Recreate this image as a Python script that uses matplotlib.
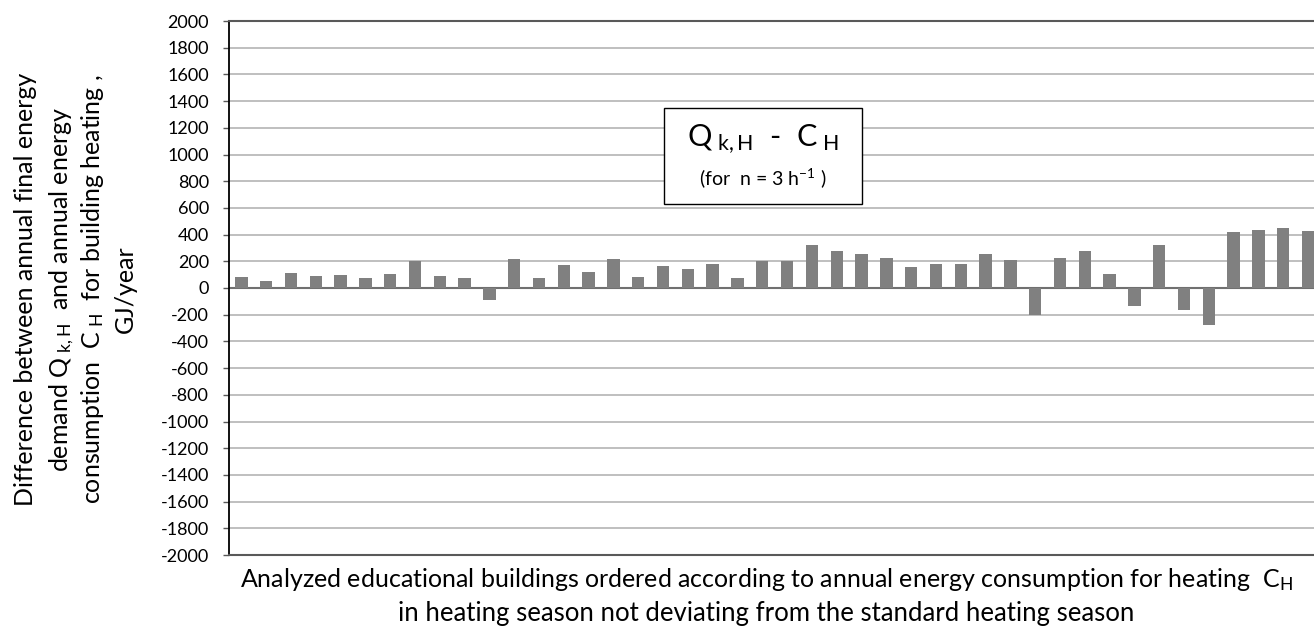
import matplotlib
matplotlib.use("Agg")
import matplotlib.pyplot as plt
from matplotlib.patches import Rectangle
import numpy as np

plt.rcParams["font.family"] = ["Lato", "DejaVu Sans"]
plt.rcParams["mathtext.fontset"] = "custom"
plt.rcParams["mathtext.rm"] = "Lato"
plt.rcParams["mathtext.it"] = "Lato"
plt.rcParams["axes.unicode_minus"] = False

# Q_k,H - C_H for each building, GJ/year
diff = [80, 55, 115, 90, 98, 73, 108, 200, 90, 73, -88, 218, 73, 175, 123,
        218, 80, 165, 140, 183, 73, 200, 200, 324, 274, 257, 225, 158, 183,
        183, 257, 207, -203, 225, 274, 106, -136, 324, -168, -280, 419, 434,
        452, 424]
yticks = list(range(-2000, 2001, 200))

ylabel_lines = [
    "Difference between annual final energy",
    r"demand Q$_{\ \mathrm{k,H}}$  and annual energy",
    r"consumption  C$_{\ \mathrm{H}}$  for building heating ,",
    "GJ/year",
]
xlabel_lines = [
    r"Analyzed educational buildings ordered according to annual energy consumption for heating  C$_{\mathrm{H}}$",
    "in heating season not deviating from the standard heating season",
]

W, H = 1314, 627
fig = plt.figure(figsize=(W / 100, H / 100), dpi=100)
ax = fig.add_axes([228.9 / W, 72 / H, 1091.6 / W, 534 / H])

x = np.arange(len(diff))
ax.bar(x, diff, width=0.5, color="#808080", zorder=3)
ax.set_xlim(-0.5, len(diff) - 0.5)
ax.set_ylim(-2000, 2000)
ax.set_yticks(yticks)
ax.set_xticks([])
ax.yaxis.grid(True, color="#b4b4b4", linewidth=1.2)
ax.set_axisbelow(True)
ax.axhline(0, color="#707070", linewidth=1.5, zorder=2)

ax.spines["right"].set_visible(False)
ax.spines["left"].set_color("black")
ax.spines["left"].set_linewidth(1.3)
for s in ("top", "bottom"):
    ax.spines[s].set_color("#595959")
    ax.spines[s].set_linewidth(1.5)
ax.tick_params(axis="y", length=4.3, width=1, color="#595959", pad=10,
               labelsize=13)

# label box
ax.add_patch(Rectangle((0.3986, 0.6567), 0.1814, 0.1798, transform=ax.transAxes,
                       facecolor="white", edgecolor="black", linewidth=1, zorder=4))
ax.text(0.4893, 0.7646, r"Q$_{\ \mathrm{k,H}}$  -  C$_{\ \mathrm{H}}$",
        transform=ax.transAxes, ha="center", va="baseline", fontsize=22, zorder=5)
ax.text(0.4893, 0.6929, r"(for  n = 3 h$^{\mathrm{-1}}$ )",
        transform=ax.transAxes, ha="center", va="baseline", fontsize=14, zorder=5)

# y axis title, one text per line
for bx, line in zip([33, 68, 100, 133], ylabel_lines):
    fig.text(bx / W, 1 - 289 / H, line, rotation=90, rotation_mode="anchor",
             ha="center", va="baseline", fontsize=18)

# x axis title
for by, fs, line in zip([587, 621], [18, 18.5], xlabel_lines):
    fig.text(766 / W, 1 - by / H, line, ha="center", va="baseline", fontsize=fs)

fig.savefig("out.png", dpi=100)
